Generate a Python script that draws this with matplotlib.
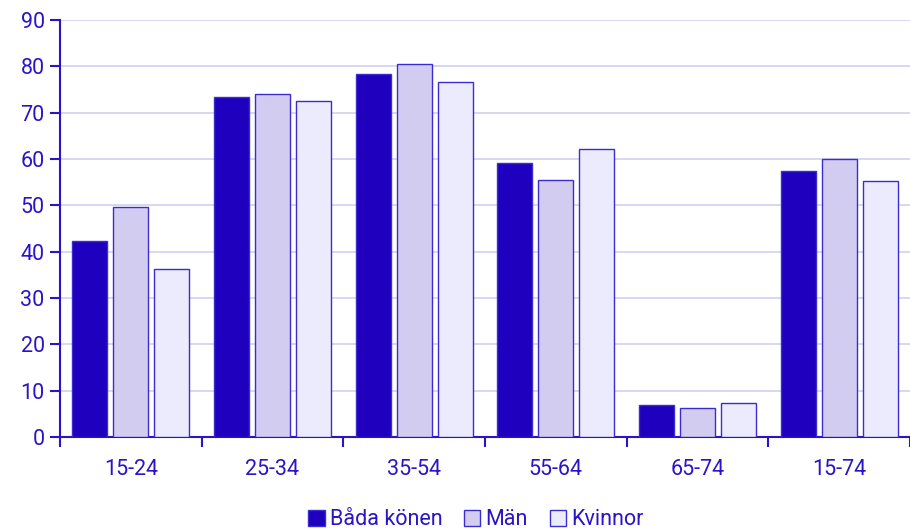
import matplotlib
matplotlib.use("Agg")
import matplotlib.pyplot as plt
import numpy as np

categories = ["15-24", "25-34", "35-54", "55-64", "65-74", "15-74"]
series_names = ["Båda könen", "Män", "Kvinnor"]
bada = [42.3, 73.4, 78.3, 59.1, 6.9, 57.4]
man = [49.6, 74.0, 80.5, 55.5, 6.3, 60.0]
kvinnor = [36.3, 72.5, 76.6, 62.2, 7.3, 55.3]

colors = ["#1e00be", "#d2cdf0", "#ecebfd"]
edge = "#3a2ccf"
text_c = "#2a14c8"

plt.rcParams['font.family'] = ['Roboto', 'DejaVu Sans']
fig = plt.figure(figsize=(9.1, 5.32), dpi=100)
ax = fig.add_axes([60/910, 1-437/532, 850/910, (437-20)/532])

x = np.arange(len(categories))
w = 0.247
off = 0.29
for i, (vals, c) in enumerate(zip([bada, man, kvinnor], colors)):
    ax.bar(x + (i-1)*off, vals, width=w, color=c, edgecolor=edge, linewidth=1.0,
           label=series_names[i], zorder=3)

ax.set_xlim(-0.5, len(categories)-0.5)
ax.set_ylim(0, 90)
ax.set_yticks(range(0, 91, 10))
ax.yaxis.grid(True, color="#d6d4f2", linewidth=1.3, zorder=0)
ax.set_axisbelow(True)
ax.set_xticks(x)
ax.set_xticklabels(categories)
ax.set_xticks(np.arange(-0.5, len(categories)), minor=True)
ax.tick_params(axis='x', which='major', length=0, pad=16, labelsize=15.5, labelcolor=text_c)
ax.tick_params(axis='x', which='minor', length=7, width=1.5, color=text_c)
ax.tick_params(axis='y', length=7, width=1.5, color=text_c, labelsize=15.5, labelcolor=text_c, pad=4)
for s in ["top", "right"]:
    ax.spines[s].set_visible(False)
for s in ["left", "bottom"]:
    ax.spines[s].set_color(text_c)
    ax.spines[s].set_linewidth(1.5)

leg = fig.legend(loc="lower center", ncol=3, bbox_to_anchor=(0.523, -0.033), frameon=False,
                 fontsize=15.5, handlelength=0.75, handleheight=0.75, handletextpad=0.25,
                 columnspacing=1.0)
for t in leg.get_texts():
    t.set_color(text_c)

fig.savefig("out.png", dpi=100)
